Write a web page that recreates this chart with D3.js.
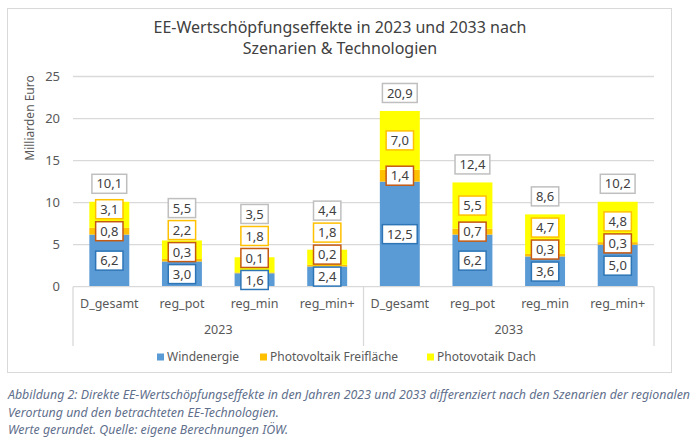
<!DOCTYPE html>
<html>
<head>
<meta charset="utf-8">
<script src="https://cdn.jsdelivr.net/npm/d3@7"></script>
<style>
  body { margin: 0; background: #fff; }
  text { font-family: "Noto Sans", sans-serif; fill: #595959; }
</style>
</head>
<body>
<div id="chart"></div>
<script>
// values (Milliarden Euro)
const years = ["2023", "2033"]
const scenarios = ["D_gesamt", "reg_pot", "reg_min", "reg_min+"]
const wind = [6.2, 3.0, 1.6, 2.4, 12.5, 6.2, 3.6, 5.0]
const pvFrei = [0.8, 0.3, 0.1, 0.2, 1.4, 0.7, 0.3, 0.3]
const pvDach = [3.1, 2.2, 1.8, 1.8, 7.0, 5.5, 4.7, 4.8]
const totals = [10.1, 5.5, 3.5, 4.4, 20.9, 12.4, 8.6, 10.2]
const yTicks = [0, 5, 10, 15, 20, 25]
const seriesNames = ["Windenergie", "Photovoltaik Freifläche", "Photovotaik Dach"]

const colors = ["#5b9bd5", "#ffc000", "#ffff00"]
const labelBorders = ["#2e75b6", "#c55a11", "#ffc000"]

const svgWidth = 700
const svgHeight = 447

let svg = d3.select("#chart")
  .append("svg")
  .attr("width", svgWidth)
  .attr("height", svgHeight)

// outer chart frame
svg.append("rect")
  .attr("x", 7.5).attr("y", 8.5)
  .attr("width", 664).attr("height", 364)
  .attr("fill", "#fff")
  .attr("stroke", "#d9d9d9")

// title
let title = svg.append("text")
  .attr("text-anchor", "middle")
  .attr("font-size", "16px")
  .style("fill", "#404040")
title.append("tspan").attr("x", 340).attr("y", 33).text("EE-Wertschöpfungseffekte in 2023 und 2033 nach")
title.append("tspan").attr("x", 340).attr("y", 54).text("Szenarien & Technologien")

// build categories like "2023|D_gesamt"
let cats = []
years.forEach(y => scenarios.forEach(s => cats.push(y + "|" + s)))

let rows = cats.map((c, i) => ({
  key: c,
  vals: [wind[i], pvFrei[i], pvDach[i]],
  total: totals[i]
}))

let x = d3.scaleBand()
  .domain(cats)
  .range([73, 654])
  .paddingInner(0.45)
  .paddingOuter(0.225)

let y = d3.scaleLinear()
  .domain([0, 25])
  .range([286.7, 76.5])

// gridlines
svg.append("g")
  .selectAll("line")
  .data(yTicks.slice(1))
  .enter()
  .append("line")
  .attr("x1", 73).attr("x2", 654)
  .attr("y1", d => y(d)).attr("y2", d => y(d))
  .attr("stroke", "#d9d9d9")
  .attr("stroke-width", 1.3)

// y axis
let yAxis = svg.append("g")
  .attr("transform", "translate(73,0)")
  .call(d3.axisLeft(y).tickValues(yTicks).tickSize(0).tickPadding(13))
yAxis.select(".domain").remove()
yAxis.selectAll("text")
  .attr("font-size", "13px")
  .attr("font-family", "Noto Sans, sans-serif")
  .style("fill", "#595959")

svg.append("text")
  .attr("transform", "translate(34,118) rotate(-90)")
  .attr("text-anchor", "middle")
  .attr("font-size", "12px")
  .text("Milliarden Euro")

// stacked bars
let stack = d3.stack().keys([0, 1, 2]).value((d, k) => d.vals[k])
let layers = stack(rows)

svg.append("g")
  .selectAll("g")
  .data(layers)
  .enter()
  .append("g")
  .attr("fill", (d, i) => colors[i])
  .selectAll("rect")
  .data(d => d)
  .enter()
  .append("rect")
  .attr("x", d => x(d.data.key))
  .attr("width", x.bandwidth())
  .attr("y", d => y(d[1]))
  .attr("height", d => y(d[0]) - y(d[1]))

// category axis
let axisG = svg.append("g").attr("stroke", "#d9d9d9").attr("stroke-width", 1.3)
axisG.append("line").attr("x1", 73).attr("x2", 654).attr("y1", y(0)).attr("y2", y(0))
let sep = [73, x(cats[4]) - x.step() * x.paddingInner() / 2 - 0, 654]
sep[1] = 73 + 4 * x.step()
axisG.selectAll("line.sep")
  .data(sep)
  .enter()
  .append("line")
  .attr("x1", d => d).attr("x2", d => d)
  .attr("y1", y(0)).attr("y2", 346)

svg.append("g")
  .selectAll("text")
  .data(cats)
  .enter()
  .append("text")
  .attr("x", d => x(d) + x.bandwidth() / 2)
  .attr("y", 308)
  .attr("text-anchor", "middle")
  .attr("font-size", "12.5px")
  .text(d => d.split("|")[1])

svg.append("g")
  .selectAll("text")
  .data(years)
  .enter()
  .append("text")
  .attr("x", (d, i) => 73 + (i * 4 + 2) * x.step())
  .attr("y", 334)
  .attr("text-anchor", "middle")
  .attr("font-size", "12.5px")
  .text(d => d)

// data labels, pushed up when they would overlap
const fmt = v => d3.format(".1f")(v).replace(".", ",")
const gap = 22
let labels = []
rows.forEach(r => {
  let cx = x(r.key) + x.bandwidth() / 2
  let base = 0
  let prev = Infinity
  r.vals.forEach((v, k) => {
    let ideal = y(base + v / 2)
    let cy = Math.min(ideal, prev - gap)
    labels.push({ cx: cx, cy: cy, text: fmt(v), border: labelBorders[k] })
    prev = cy
    base += v
  })
  let ideal = y(base) - 18
  labels.push({ cx: cx, cy: Math.min(ideal, prev - gap), text: fmt(r.total), border: "#bfbfbf" })
})

let lab = svg.append("g")
  .selectAll("g")
  .data(labels)
  .enter()
  .append("g")
  .attr("transform", d => `translate(${d.cx},${d.cy})`)

let labText = lab.append("text")
  .attr("text-anchor", "middle")
  .attr("dy", "0.35em")
  .attr("font-size", "13px")
  .style("fill", "#404040")
  .text(d => d.text)

lab.insert("rect", "text")
  .attr("x", function() { return -(this.parentNode.querySelector("text").getComputedTextLength() + 9) / 2 })
  .attr("width", function() { return this.parentNode.querySelector("text").getComputedTextLength() + 9 })
  .attr("y", -9.5)
  .attr("height", 19)
  .attr("fill", "#fff")
  .attr("stroke", d => d.border)
  .attr("stroke-width", 1.5)

// legend
let legendX = [157, 260, 427]
let legend = svg.append("g")
  .selectAll("g")
  .data(seriesNames)
  .enter()
  .append("g")
  .attr("transform", (d, i) => `translate(${legendX[i]},357)`)
legend.append("rect")
  .attr("x", 0).attr("y", -3.5)
  .attr("width", 7).attr("height", 7)
  .attr("fill", (d, i) => colors[i])
legend.append("text")
  .attr("x", 10)
  .attr("dy", "0.35em")
  .attr("font-size", "12px")
  .text(d => d)

// caption below the frame
const caption = [
  "Abbildung 2: Direkte EE-Wertschöpfungseffekte in den Jahren 2023 und 2033 differenziert nach den Szenarien der regionalen",
  "Verortung und den betrachteten EE-Technologien.",
  "Werte gerundet. Quelle: eigene Berechnungen IÖW."
]
let capText = svg.append("g")
  .selectAll("text")
  .data(caption)
  .enter()
  .append("text")
  .attr("x", 8)
  .attr("y", (d, i) => 399 + i * 17.5)
  .attr("font-size", "12.5px")
  .attr("font-style", "italic")
  .attr("font-family", "Open Sans, sans-serif")
  .style("fill", "#5f6f8c")
  .text(d => d)

let squeeze = 682 / capText.nodes()[0].getComputedTextLength()
capText.each(function() {
  let w = this.getComputedTextLength()
  d3.select(this).attr("textLength", w * squeeze).attr("lengthAdjust", "spacingAndGlyphs")
})
</script>
</body>
</html>
